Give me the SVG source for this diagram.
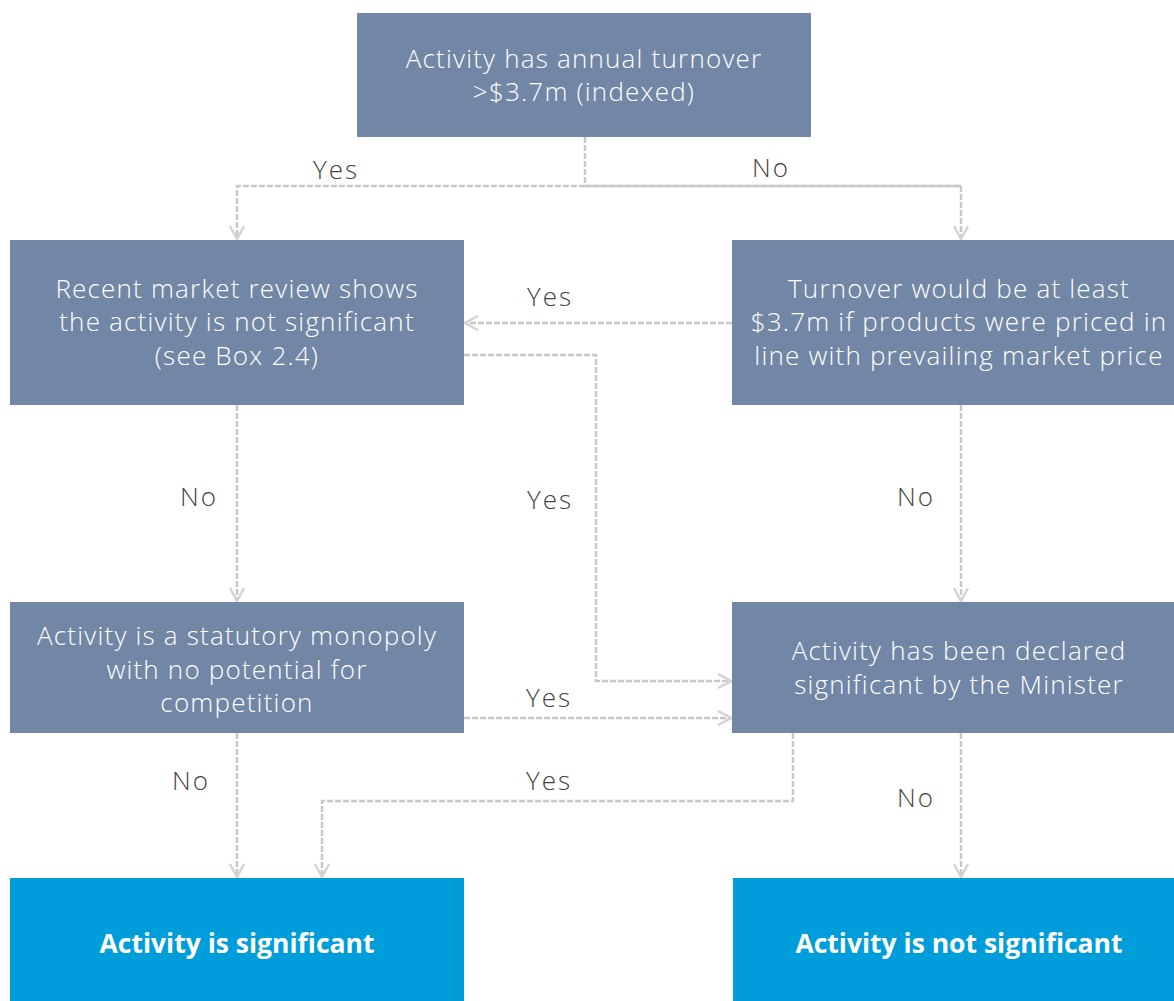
<svg xmlns="http://www.w3.org/2000/svg" width="1174" height="1001" viewBox="0 0 1174 1001">
<defs>
<style>
.box{fill:#7286a6}
.end{fill:#009ddb}
.t{font-family:"Open Sans","Liberation Sans",sans-serif;font-size:26px;fill:#ffffff;text-anchor:middle;font-weight:300;letter-spacing:1.2px}
.tb{font-family:"Open Sans","Liberation Sans",sans-serif;font-size:26.5px;fill:#ffffff;text-anchor:middle;font-weight:bold}
.lbl{font-family:"Open Sans","Liberation Sans",sans-serif;font-size:26px;fill:#444444;text-anchor:middle;font-weight:300;letter-spacing:2px}
.c{fill:none;stroke:#c8c8c8;stroke-width:2.5;stroke-dasharray:6,2}
</style>
<marker id="ah" viewBox="0 0 16 16" refX="15" refY="8" markerWidth="16" markerHeight="16" markerUnits="userSpaceOnUse" orient="auto">
<path d="M2,1 L15,8 L2,15" fill="none" stroke="#d4d4d4" stroke-width="2.5"/>
</marker>
</defs>
<rect width="1174" height="1001" fill="#ffffff"/>
<g id="connectors">
<path class="c" d="M585,137 V186"/>
<path class="c" d="M961,186 H237 V239" marker-end="url(#ah)"/>
<path class="c" d="M585,186 H961 V239" marker-end="url(#ah)"/>
<path class="c" d="M732,323 H465" marker-end="url(#ah)"/>
<path class="c" d="M464,355 H596 V681 H731" marker-end="url(#ah)"/>
<path class="c" d="M237,405 V601" marker-end="url(#ah)"/>
<path class="c" d="M961,405 V601" marker-end="url(#ah)"/>
<path class="c" d="M464,718 H731" marker-end="url(#ah)"/>
<path class="c" d="M237,733 V877" marker-end="url(#ah)"/>
<path class="c" d="M793,733 V801 H322 V877" marker-end="url(#ah)"/>
<path class="c" d="M961,733 V877" marker-end="url(#ah)"/>
<text class="lbl" x="336" y="179">Yes</text>
<text class="lbl" x="771" y="177">No</text>
<text class="lbl" x="550" y="306">Yes</text>
<text class="lbl" x="550" y="509">Yes</text>
<text class="lbl" x="199" y="506">No</text>
<text class="lbl" x="916" y="506">No</text>
<text class="lbl" x="549" y="707">Yes</text>
<text class="lbl" x="191" y="790">No</text>
<text class="lbl" x="549" y="790">Yes</text>
<text class="lbl" x="916" y="807">No</text>
</g>
<g id="n1">
<rect class="box" x="357" y="13" width="454" height="124"/>
<text class="t" x="584" y="68">Activity has annual turnover</text>
<text class="t" x="584" y="101">&gt;$3.7m (indexed)</text>
</g>
<g id="n2">
<rect class="box" x="10" y="240" width="454" height="165"/>
<text class="t" x="237" y="298">Recent market review shows</text>
<text class="t" x="237" y="331">the activity is not significant</text>
<text class="t" x="237" y="365">(see Box 2.4)</text>
</g>
<g id="n3">
<rect class="box" x="732" y="240" width="442" height="165"/>
<text class="t" x="959" y="298">Turnover would be at least</text>
<text class="t" x="959" y="331">$3.7m if products were priced in</text>
<text class="t" x="959" y="365">line with prevailing market price</text>
</g>
<g id="n4">
<rect class="box" x="10" y="602" width="454" height="131"/>
<text class="t" x="237" y="645">Activity is a statutory monopoly</text>
<text class="t" x="237" y="679">with no potential for</text>
<text class="t" x="237" y="712">competition</text>
</g>
<g id="n5">
<rect class="box" x="732" y="602" width="442" height="131"/>
<text class="t" x="959" y="660">Activity has been declared</text>
<text class="t" x="959" y="694">significant by the Minister</text>
</g>
<g id="n6">
<rect class="end" x="10" y="878" width="454" height="123"/>
<text class="tb" x="237" y="953">Activity is significant</text>
</g>
<g id="n7">
<rect class="end" x="733" y="878" width="441" height="123"/>
<text class="tb" x="959" y="953">Activity is not significant</text>
</g>
</svg>
